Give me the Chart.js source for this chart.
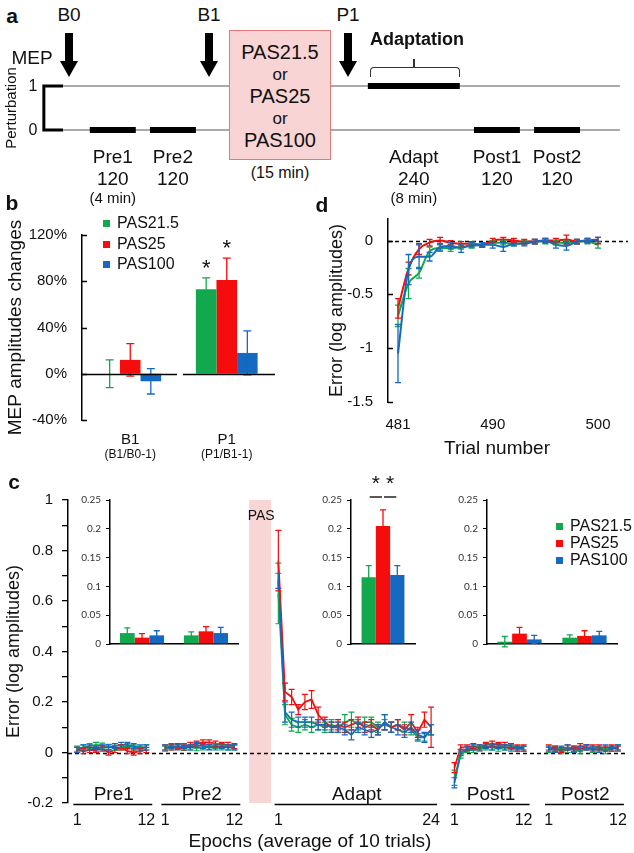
<!DOCTYPE html>
<html><head><meta charset="utf-8">
<script src="https://cdn.jsdelivr.net/npm/chart.js"></script>
<style>
html,body{margin:0;padding:0;background:#fff}
#fig{position:relative;width:634px;height:853px;overflow:hidden;font-family:"Liberation Sans",Arial,sans-serif;color:#111}
.box{position:absolute}
canvas{display:block}
.t{position:absolute;white-space:nowrap;line-height:1;transform:translate(-50%,-50%)}
.b{font-weight:bold}
.lg{position:absolute;line-height:1}
.lg div{position:absolute;left:0;display:flex;align-items:center;white-space:nowrap;transform:translateY(-50%)}
.lg .sq{display:inline-block;width:7px;height:7px;margin-right:7px}
.shaft{position:absolute;background:#000;width:8px}
.head{position:absolute;width:0;height:0;border-left:9px solid transparent;border-right:9px solid transparent;border-top:16px solid #000}
#pasbox{position:absolute;left:229px;top:30px;width:100px;height:128px;background:#f9d4d4;border:1.5px solid #e27878}
</style></head>
<body><div id="fig">

<!-- panel a -->
<div class="box" style="left:0;top:60px;width:634px;height:90px"><canvas id="ca" width="634" height="90"></canvas></div>
<div class="t b" style="left:12px;top:15px;font-size:21px">a</div>
<div class="t" style="left:69px;top:14px;font-size:19px">B0</div>
<div class="t" style="left:209px;top:14px;font-size:19px">B1</div>
<div class="t" style="left:348px;top:14px;font-size:19px">P1</div>
<div class="shaft" style="left:65px;top:33px;height:29px"></div><div class="head" style="left:60px;top:61px"></div>
<div class="shaft" style="left:205px;top:33px;height:29px"></div><div class="head" style="left:200px;top:61px"></div>
<div class="shaft" style="left:344px;top:33px;height:29px"></div><div class="head" style="left:339px;top:61px"></div>
<div class="t" style="left:32px;top:57px;font-size:19px">MEP</div>
<div class="t" style="left:10px;top:108px;font-size:15px;transform:translate(-50%,-50%) rotate(-90deg)">Perturbation</div>
<div class="t" style="left:33px;top:86px;font-size:16px">1</div>
<div class="t" style="left:33px;top:130px;font-size:16px">0</div>
<div id="pasbox"></div>
<div class="t" style="left:280px;top:52px;font-size:20px">PAS21.5</div>
<div class="t" style="left:280px;top:74px;font-size:17px">or</div>
<div class="t" style="left:280px;top:96px;font-size:20px">PAS25</div>
<div class="t" style="left:280px;top:118px;font-size:17px">or</div>
<div class="t" style="left:280px;top:140px;font-size:20px">PAS100</div>
<div class="t" style="left:280px;top:173px;font-size:16px">(15 min)</div>
<div class="t b" style="left:417px;top:39px;font-size:18px">Adaptation</div>
<div class="box" style="left:370px;top:67px;width:88px;height:9px;border:1.5px solid #333;border-bottom:none;border-radius:4px 4px 0 0"></div>
<div class="box" style="left:413px;top:59px;width:1.5px;height:9px;background:#333"></div>

<!-- panel b -->
<div class="box" style="left:0;top:200px;width:290px;height:270px"><canvas id="cb" width="290" height="270"></canvas></div>
<div class="t b" style="left:12px;top:202px;font-size:21px">b</div>
<div class="lg" id="lgb" style="left:103px;top:0;font-size:16px"></div>

<!-- panel d -->
<div class="box" style="left:300px;top:195px;width:334px;height:260px"><canvas id="cd" width="334" height="260"></canvas></div>
<div class="t b" style="left:322px;top:204px;font-size:21px">d</div>
<div class="t" style="left:497px;top:447px;font-size:19px">Trial number</div>

<!-- panel c -->
<div class="box" style="left:0;top:470px;width:634px;height:383px"><canvas id="cc" width="634" height="383"></canvas></div>
<div class="box" style="left:60px;top:470px;width:185px;height:185px"><canvas id="ci1" width="185" height="185"></canvas></div>
<div class="box" style="left:300px;top:470px;width:125px;height:185px"><canvas id="ci2" width="125" height="185"></canvas></div>
<div class="box" style="left:440px;top:470px;width:185px;height:185px"><canvas id="ci3" width="185" height="185"></canvas></div>
<div class="t b" style="left:14px;top:481px;font-size:21px">c</div>
<div class="lg" id="lgc" style="left:556px;top:0;font-size:16px"></div>
<div class="t" style="left:310px;top:840px;font-size:19px">Epochs (average of 10 trials)</div>

</div>
<script>
// ================= DATA =================
const groups = ['PAS21.5', 'PAS25', 'PAS100'];

// panel a: session schedule
const phaseNames = ['Pre1', 'Pre2', 'Adapt', 'Post1', 'Post2'];
const phaseTrials = [120, 120, 240, 120, 120];
const phasePerturbation = [0, 0, 1, 0, 0];
const phaseDuration = ['(4 min)', '', '(8 min)', '', ''];

// panel b: MEP amplitude changes (%)
const mepCategories = ['B1', 'P1'];
const mepSubLabels = ['(B1/B0-1)', '(P1/B1-1)'];
const mepTicks = [-40, 0, 40, 80, 120];
const mepPAS215 = [0, 73];
const mepPAS215Err = [12, 10];
const mepPAS25 = [12, 81];
const mepPAS25Err = [14, 19];
const mepPAS100 = [-6.5, 18];
const mepPAS100Err = [11, 19];
const mepSigPAS215 = [0, 1];
const mepSigPAS25 = [0, 1];
const mepSigPAS100 = [0, 0];

// panel d: first 20 trials of Post1
const trialNumbers = [481,482,483,484,485,486,487,488,489,490,491,492,493,494,495,496,497,498,499,500];
const trialTicks = [481, 490, 500];
const dYTicks = [-1.5, -1, -0.5, 0];
const dPAS215 = [-0.70,-0.40,-0.30,-0.10,-0.07,-0.07,-0.06,-0.05,-0.04,-0.02,-0.02,-0.03,-0.02,-0.01,-0.01,-0.02,-0.02,-0.01,-0.01,-0.04];
const dPAS215Err = [0.10,0.14,0.05,0.04,0.03,0.03,0.02,0.02,0.02,0.02,0.02,0.02,0.02,0.02,0.02,0.02,0.02,0.02,0.02,0.03];
const dPAS25 = [-0.63,-0.26,-0.08,-0.02,0.00,-0.02,-0.03,-0.03,-0.04,0.00,0.01,0.00,-0.01,-0.01,0.00,0.00,0.01,-0.01,0.00,0.00];
const dPAS25Err = [0.09,0.06,0.05,0.03,0.03,0.02,0.02,0.02,0.02,0.02,0.02,0.02,0.02,0.02,0.02,0.02,0.04,0.02,0.02,0.03];
const dPAS100 = [-1.05,-0.27,-0.15,-0.15,-0.06,-0.05,-0.07,-0.04,-0.04,-0.04,-0.06,-0.03,-0.03,-0.01,0.00,-0.04,-0.05,-0.01,0.00,0.01];
const dPAS100Err = [0.27,0.14,0.11,0.04,0.03,0.03,0.04,0.02,0.02,0.03,0.04,0.02,0.02,0.02,0.02,0.03,0.04,0.02,0.02,0.02];

// panel c: epochs (Pre1 12, Pre2 12, Adapt 24, Post1 12, Post2 12)
const cYTicks = [-0.2,-0.1,0,0.1,0.2,0.3,0.4,0.5,0.6,0.7,0.8,0.9,1];
const cPAS215 = [
  0.015,0.020,0.025,0.030,0.027,0.022,0.018,0.020,0.025,0.020,0.015,0.020,
  0.015,0.020,0.022,0.018,0.020,0.017,0.020,0.022,0.025,0.020,0.020,0.020,
  0.63,0.15,0.11,0.10,0.11,0.10,0.11,0.10,0.11,0.10,0.12,0.13,0.11,0.12,0.12,0.10,0.11,0.10,0.11,0.10,0.09,0.06,0.06,0.09,
  -0.10,-0.01,0.010,0.010,0.015,0.020,0.020,0.015,0.020,0.015,0.015,0.015,
  0.010,0.015,0.005,0.010,0.015,0.005,0.020,0.010,0.015,0.005,0.015,0.020];
const cPAS215Err = [
  0.010,0.010,0.010,0.010,0.010,0.010,0.010,0.010,0.010,0.010,0.010,0.010,
  0.010,0.010,0.010,0.010,0.010,0.010,0.010,0.010,0.010,0.010,0.010,0.010,
  0.12,0.04,0.025,0.02,0.02,0.02,0.02,0.02,0.02,0.02,0.03,0.03,0.02,0.02,0.02,0.02,0.02,0.02,0.02,0.02,0.02,0.015,0.015,0.02,
  0.030,0.012,0.010,0.010,0.010,0.010,0.010,0.010,0.010,0.010,0.010,0.010,
  0.010,0.010,0.010,0.010,0.010,0.010,0.010,0.010,0.010,0.010,0.010,0.010];
const cPAS25 = [
  0.010,0.005,0.010,0.010,0.015,0.000,0.010,0.020,0.005,0.000,0.005,0.010,
  0.020,0.020,0.025,0.020,0.030,0.035,0.040,0.040,0.035,0.030,0.030,0.025,
  0.76,0.24,0.22,0.17,0.20,0.21,0.15,0.12,0.10,0.11,0.10,0.11,0.12,0.10,0.11,0.09,0.12,0.10,0.11,0.09,0.12,0.08,0.13,0.10,
  -0.06,0.020,0.020,0.025,0.020,0.030,0.035,0.030,0.030,0.025,0.020,0.020,
  0.020,0.015,0.010,0.020,0.015,0.025,0.020,0.020,0.020,0.015,0.020,0.015];
const cPAS25Err = [
  0.010,0.010,0.010,0.010,0.010,0.010,0.010,0.010,0.010,0.010,0.010,0.010,
  0.010,0.010,0.010,0.010,0.010,0.010,0.010,0.010,0.010,0.010,0.010,0.010,
  0.12,0.035,0.03,0.02,0.03,0.035,0.03,0.02,0.02,0.02,0.02,0.02,0.02,0.02,0.02,0.02,0.03,0.02,0.02,0.02,0.03,0.02,0.03,0.08,
  0.020,0.010,0.010,0.010,0.010,0.010,0.010,0.010,0.010,0.010,0.010,0.010,
  0.010,0.010,0.010,0.010,0.010,0.010,0.010,0.010,0.010,0.010,0.010,0.010];
const cPAS100 = [
  0.010,0.020,0.020,0.015,0.020,0.020,0.025,0.030,0.030,0.025,0.020,0.020,
  0.020,0.025,0.020,0.025,0.020,0.030,0.025,0.020,0.020,0.025,0.020,0.020,
  0.68,0.16,0.13,0.12,0.12,0.12,0.11,0.11,0.10,0.10,0.09,0.07,0.10,0.09,0.08,0.09,0.12,0.10,0.09,0.08,0.10,0.07,0.06,0.09,
  -0.12,0.000,0.015,0.020,0.020,0.025,0.020,0.025,0.020,0.020,0.015,0.015,
  0.015,0.010,0.015,0.020,0.010,0.015,0.020,0.015,0.010,0.020,0.015,0.020];
const cPAS100Err = [
  0.010,0.010,0.010,0.010,0.010,0.010,0.010,0.010,0.010,0.010,0.010,0.010,
  0.010,0.010,0.010,0.010,0.010,0.010,0.010,0.010,0.010,0.010,0.010,0.010,
  0.03,0.04,0.03,0.02,0.02,0.02,0.02,0.02,0.02,0.02,0.02,0.02,0.02,0.02,0.02,0.02,0.03,0.02,0.02,0.02,0.02,0.02,0.02,0.02,
  0.020,0.012,0.010,0.010,0.010,0.010,0.010,0.010,0.010,0.010,0.010,0.010,
  0.010,0.010,0.010,0.010,0.010,0.010,0.010,0.010,0.010,0.010,0.010,0.010];

// panel c insets: mean error per block
const insetTicks = [0, 0.05, 0.1, 0.15, 0.2, 0.25];
const preBlocks = ['Pre1', 'Pre2'];
const prePAS215 = [0.019, 0.015], prePAS215Err = [0.009, 0.006];
const prePAS25 = [0.011, 0.022], prePAS25Err = [0.007, 0.008];
const prePAS100 = [0.015, 0.019], prePAS100Err = [0.008, 0.010];
const adaptBlocks = ['Adapt'];
const adaptPAS215 = [0.116], adaptPAS215Err = [0.020];
const adaptPAS25 = [0.205], adaptPAS25Err = [0.028];
const adaptPAS100 = [0.120], adaptPAS100Err = [0.016];
const adaptSigPairs = [[0, 1], [1, 2]];
const postBlocks = ['Post1', 'Post2'];
const postPAS215 = [0.004, 0.011], postPAS215Err = [0.009, 0.005];
const postPAS25 = [0.018, 0.014], postPAS25Err = [0.011, 0.009];
const postPAS100 = [0.008, 0.015], postPAS100Err = [0.007, 0.007];

// ================= STYLE =================
const colors = ['#12a84e', '#f50d0d', '#1569c0'];
const FONT = '"Liberation Sans", Arial, sans-serif';
Chart.defaults.font.family = FONT;
Chart.defaults.color = '#111';
Chart.defaults.animation = false;
Chart.defaults.responsive = false;
Chart.defaults.events = [];
Chart.defaults.plugins.legend.display = false;
Chart.defaults.plugins.tooltip.enabled = false;
Chart.defaults.layout.autoPadding = false;

function txt(text, x, y, size) {
  const d = document.createElement('div');
  d.className = 't'; d.textContent = text;
  d.style.left = x + 'px'; d.style.top = y + 'px'; d.style.fontSize = size + 'px';
  document.getElementById('fig').appendChild(d);
}
function legend(id, rows) {
  const el = document.getElementById(id);
  groups.forEach((g, i) => {
    const r = document.createElement('div');
    r.style.top = rows[i] + 'px';
    r.innerHTML = '<span class="sq" style="background:' + colors[i] + '"></span>' + g;
    el.appendChild(r);
  });
}

// ---------- plugins ----------
const errBars = {
  id: 'errBars',
  afterDatasetsDraw(chart, args, opts) {
    const ctx = chart.ctx;
    chart.data.datasets.forEach((ds, di) => {
      if (!ds.errors) return;
      const meta = chart.getDatasetMeta(di);
      const ys = chart.scales[meta.yAxisID];
      ctx.save();
      ctx.strokeStyle = chart.config.type === 'line' ? ds.borderColor : ds.backgroundColor;
      ctx.lineWidth = opts.width || 1.3;
      const cap = opts.cap || 3;
      meta.data.forEach((el, i) => {
        const raw = ds.data[i];
        const v = (raw && typeof raw === 'object') ? raw.y : raw;
        const e = ds.errors[i];
        if (v == null || e == null) return;
        const x = el.x;
        const y1 = ys.getPixelForValue(v + e), y2 = ys.getPixelForValue(v - e);
        ctx.beginPath();
        ctx.moveTo(x, y1); ctx.lineTo(x, y2);
        ctx.moveTo(x - cap, y1); ctx.lineTo(x + cap, y1);
        ctx.moveTo(x - cap, y2); ctx.lineTo(x + cap, y2);
        ctx.stroke();
      });
      ctx.restore();
    });
  }
};
const innerTicks = {
  id: 'innerTicks',
  afterDraw(chart) {
    const s = chart.scales.y, ctx = chart.ctx;
    ctx.save(); ctx.strokeStyle = '#000'; ctx.lineWidth = 1.3; ctx.beginPath();
    s.ticks.forEach(t => { const y = Math.round(s.getPixelForValue(t.value)) + 0.5; ctx.moveTo(s.right, y); ctx.lineTo(s.right + 5, y); });
    ctx.stroke(); ctx.restore();
  }
};
const zeroDash = {
  id: 'zeroDash',
  beforeDatasetsDraw(chart) {
    const {ctx, chartArea: a, scales: {y}} = chart;
    const yy = Math.round(y.getPixelForValue(0)) + 0.5;
    ctx.save(); ctx.strokeStyle = '#000'; ctx.lineWidth = 1.3; ctx.setLineDash([4, 3]);
    ctx.beginPath(); ctx.moveTo(a.left, yy); ctx.lineTo(a.right, yy); ctx.stroke(); ctx.restore();
  }
};

// ================= PANEL A =================
const phaseStart = [];
(function () {
  let t = 70;
  phaseTrials.forEach((n, i) => {
    if (phasePerturbation[i] === 1) t = 796; // after PAS block
    phaseStart.push(t); t += n + 37;
  });
})();
const aSets = [];
phaseNames.forEach((n, i) => aSets.push({
  data: [{x: phaseStart[i], y: phasePerturbation[i]}, {x: phaseStart[i] + phaseTrials[i], y: phasePerturbation[i]}],
  borderColor: '#000', borderWidth: 6, borderCapStyle: 'butt'
}));
aSets.push({data: [{x: 0, y: 1}, {x: -50, y: 1}, {x: -50, y: 0}, {x: 0, y: 0}], borderColor: '#000', borderWidth: 3, borderJoinStyle: 'miter'});
aSets.push({data: [{x: 0, y: 1}, {x: 1454, y: 1}], borderColor: '#8c8c8c', borderWidth: 1.5});
aSets.push({data: [{x: 0, y: 0}, {x: 1454, y: 0}], borderColor: '#8c8c8c', borderWidth: 1.5});
const chartA = new Chart(document.getElementById('ca'), {
  type: 'line',
  data: {datasets: aSets.map(d => Object.assign({pointRadius: 0, fill: false, tension: 0}, d))},
  options: {layout: {padding: 0},
    scales: {x: {type: 'linear', display: false, min: -164.5, max: 1490.9}, y: {display: false, min: -0.4545, max: 1.591}}}
});
phaseNames.forEach((n, i) => {
  const x = chartA.scales.x.getPixelForValue(phaseStart[i] + phaseTrials[i] / 2);
  txt(n, x, 156, 19);
  txt(String(phaseTrials[i]), x, 178, 19);
  if (phaseDuration[i]) txt(phaseDuration[i], x, 197, 15);
});

// ================= PANEL B =================
const mepExtras = {
  id: 'mepExtras',
  afterDatasetsDraw(chart) {
    const {ctx, chartArea: a, scales: {x, y}} = chart;
    const n = mepCategories.length, w = (a.right - a.left) / n;
    const y0 = Math.round(y.getPixelForValue(0)) + 0.5;
    ctx.save(); ctx.strokeStyle = '#000'; ctx.lineWidth = 1.3;
    mepCategories.forEach((c, i) => {
      const cx = x.getPixelForValue(i);
      const l = i === 0 ? a.left : cx - 0.455 * w;
      const r = i === n - 1 ? a.right : cx + 0.485 * w;
      ctx.beginPath(); ctx.moveTo(l, y0); ctx.lineTo(r, y0); ctx.stroke();
      ctx.fillStyle = '#111'; ctx.textAlign = 'center'; ctx.textBaseline = 'middle';
      ctx.font = '15px ' + FONT; ctx.fillText(c, cx, 240);
      ctx.font = '12px ' + FONT; ctx.fillText(mepSubLabels[i], cx, 255);
    });
    ctx.font = '22px ' + FONT; ctx.textBaseline = 'alphabetic';
    chart.data.datasets.forEach((ds, di) => {
      const meta = chart.getDatasetMeta(di);
      ds.sig.forEach((s, i) => {
        if (!s) return;
        const top = y.getPixelForValue(ds.data[i] + ds.errors[i]);
        ctx.fillText('*', meta.data[i].x, top - 3);
      });
    });
    ctx.restore();
  }
};
new Chart(document.getElementById('cb'), {
  type: 'bar',
  data: {labels: mepCategories, datasets: [
    {label: groups[0], data: mepPAS215, errors: mepPAS215Err, sig: mepSigPAS215, backgroundColor: colors[0]},
    {label: groups[1], data: mepPAS25, errors: mepPAS25Err, sig: mepSigPAS25, backgroundColor: colors[1]},
    {label: groups[2], data: mepPAS100, errors: mepPAS100Err, sig: mepSigPAS100, backgroundColor: colors[2]}
  ].map(d => Object.assign({borderWidth: 0, categoryPercentage: 0.64, barPercentage: 1}, d))},
  options: {
    layout: {padding: {top: 35, right: 15, bottom: 50, left: 0}},
    plugins: {errBars: {cap: 4, width: 1.3}},
    scales: {
      x: {display: false},
      y: {min: -40, max: 120,
        afterBuildTicks: s => { s.ticks = mepTicks.map(v => ({value: v})); },
        ticks: {callback: v => v + '%', font: {size: 15}, color: '#111', padding: 15},
        grid: {display: false, drawTicks: false},
        border: {display: true, color: '#000', width: 1.5},
        title: {display: true, text: 'MEP amplitudes changes', font: {size: 19}, color: '#111', padding: {top: 4, bottom: 0}},
        afterFit: s => { s.width = 82; }
      }
    }
  },
  plugins: [errBars, innerTicks, mepExtras]
});
legend('lgb', [223, 244, 264]);

// ================= PANEL D =================
function xy(xs, ys) { return xs.map((x, i) => ({x: x, y: ys[i]})); }
new Chart(document.getElementById('cd'), {
  type: 'line',
  data: {datasets: [
    {label: groups[0], data: xy(trialNumbers, dPAS215), errors: dPAS215Err, borderColor: colors[0], order: 2},
    {label: groups[1], data: xy(trialNumbers, dPAS25), errors: dPAS25Err, borderColor: colors[1], order: 1},
    {label: groups[2], data: xy(trialNumbers, dPAS100), errors: dPAS100Err, borderColor: colors[2], order: 0}
  ].map(d => Object.assign({pointRadius: 0, borderWidth: 2, fill: false, cubicInterpolationMode: 'monotone'}, d))},
  options: {
    layout: {padding: {top: 18, right: 6, bottom: 0, left: 0}},
    plugins: {errBars: {cap: 3, width: 1.3}},
    scales: {
      x: {type: 'linear', min: 480.05, max: 502.85,
        afterBuildTicks: s => { s.ticks = trialTicks.map(v => ({value: v})); },
        ticks: {callback: v => String(v), font: {size: 15}, color: '#111', padding: 14, maxRotation: 0},
        grid: {display: false, drawTicks: false}, border: {display: false},
        afterFit: s => { s.height = 53; }
      },
      y: {min: -1.5, max: 0.2,
        afterBuildTicks: s => { s.ticks = dYTicks.map(v => ({value: v})); },
        ticks: {callback: v => String(v), font: {size: 15}, color: '#111', padding: 15},
        grid: {display: false, drawTicks: false},
        border: {display: true, color: '#000', width: 1.5},
        title: {display: true, text: 'Error (log amplitudes)', font: {size: 18}, color: '#111', padding: {top: 26, bottom: 0}},
        afterFit: s => { s.width = 88; }
      }
    }
  },
  plugins: [zeroDash, errBars, innerTicks]
});

// ================= PANEL C (main) =================
const phaseEpochs = phaseTrials.map(n => n / 10);
const phaseStartUnit = [1, 15, 33, 61, 76];
const phaseStepUnit = [1, 1, 1.056, 1, 1];
const pasBand = [28.35, 31.85];
function epochX(p, i) { return phaseStartUnit[p] + i * phaseStepUnit[p]; }
function cSeries(vals, errs) {
  const data = [], e = []; let k = 0;
  phaseEpochs.forEach((n, p) => {
    for (let i = 0; i < n; i++) { data.push({x: epochX(p, i), y: vals[k]}); e.push(errs[k]); k++; }
    data.push({x: epochX(p, n - 1) + 0.5, y: null}); e.push(null);
  });
  return {data, errors: e};
}
const cAxis = {
  id: 'cAxis',
  beforeDatasetsDraw(chart) {
    const {ctx, chartArea: a, scales: {x}} = chart;
    const x1 = x.getPixelForValue(pasBand[0]), x2 = x.getPixelForValue(pasBand[1]);
    ctx.save();
    ctx.fillStyle = '#f8d6d6'; ctx.fillRect(x1, a.top, x2 - x1, a.bottom - a.top);
    ctx.fillStyle = '#111'; ctx.font = '14px ' + FONT; ctx.textAlign = 'center'; ctx.textBaseline = 'middle';
    ctx.fillText('PAS', (x1 + x2) / 2 + 1, a.top + 16);
    ctx.restore();
  },
  afterDraw(chart) {
    const {ctx, chartArea: a, scales: {x}} = chart;
    ctx.save(); ctx.strokeStyle = '#000'; ctx.lineWidth = 1.3; ctx.fillStyle = '#111';
    ctx.textAlign = 'center'; ctx.textBaseline = 'middle';
    phaseNames.forEach((name, p) => {
      const n = phaseEpochs[p];
      const f = x.getPixelForValue(epochX(p, 0)), l = x.getPixelForValue(epochX(p, n - 1));
      const ly = Math.round(a.bottom) + 1.5;
      ctx.beginPath(); ctx.moveTo(x.getPixelForValue(epochX(p, 0) - 0.6), ly); ctx.lineTo(x.getPixelForValue(epochX(p, n - 1) + 0.95), ly); ctx.stroke();
      ctx.font = '19px ' + FONT; ctx.fillText(name, (f + l) / 2 + 2, a.bottom - 8);
      ctx.font = '16px ' + FONT; ctx.fillText('1', f, a.bottom + 18); ctx.fillText(String(n), l, a.bottom + 18);
    });
    ctx.restore();
  }
};
const cG = cSeries(cPAS215, cPAS215Err), cR = cSeries(cPAS25, cPAS25Err), cB = cSeries(cPAS100, cPAS100Err);
new Chart(document.getElementById('cc'), {
  type: 'line',
  data: {datasets: [
    {label: groups[0], data: cG.data, errors: cG.errors, borderColor: colors[0], order: 2},
    {label: groups[1], data: cR.data, errors: cR.errors, borderColor: colors[1], order: 1},
    {label: groups[2], data: cB.data, errors: cB.errors, borderColor: colors[2], order: 0}
  ].map(d => Object.assign({pointRadius: 0, borderWidth: 1.8, fill: false, tension: 0, spanGaps: false}, d))},
  options: {
    layout: {padding: {top: 30, right: 6, bottom: 50, left: 0}},
    plugins: {errBars: {cap: 3, width: 1.2}},
    scales: {
      x: {type: 'linear', display: false, min: -0.45, max: 88.6},
      y: {min: -0.2, max: 1,
        afterBuildTicks: s => { s.ticks = cYTicks.map(v => ({value: v})); },
        ticks: {callback: v => (Math.round(v * 10) % 2 === 0 ? String(Math.round(v * 10) / 10) : ''), font: {size: 15}, color: '#111', padding: 9, autoSkip: false},
        grid: {display: true, drawOnChartArea: false, drawTicks: true, tickLength: 6, color: '#000', lineWidth: 1.3},
        border: {display: true, color: '#000', width: 1.5},
        title: {display: true, text: 'Error (log amplitudes)', font: {size: 18}, color: '#111', padding: {top: 3, bottom: 0}},
        afterFit: s => { s.width = 68; }
      }
    }
  },
  plugins: [cAxis, zeroDash, errBars]
});

// ================= PANEL C (insets) =================
const sigPairs = {
  id: 'sigPairs',
  afterDraw(chart, args, opts) {
    if (!opts.pairs) return;
    const ctx = chart.ctx, a = chart.chartArea;
    ctx.save(); ctx.strokeStyle = '#222'; ctx.lineWidth = 1.5; ctx.fillStyle = '#111';
    ctx.textAlign = 'center'; ctx.textBaseline = 'alphabetic'; ctx.font = '21px ' + FONT;
    opts.pairs.forEach(([i, j]) => {
      const xi = chart.getDatasetMeta(i).data[0].x, xj = chart.getDatasetMeta(j).data[0].x;
      const yl = a.top - 3;
      ctx.beginPath(); ctx.moveTo(xi + 1, yl); ctx.lineTo(xj - 1, yl); ctx.stroke();
      ctx.fillText('*', (xi + xj) / 2, yl - 7);
    });
    ctx.restore();
  }
};
function inset(id, labels, sets, leftW, rightPad, cp, pairs) {
  return new Chart(document.getElementById(id), {
    type: 'bar',
    data: {labels: labels, datasets: sets.map((s, i) => ({label: groups[i], data: s[0], errors: s[1], backgroundColor: colors[i], borderWidth: 0, categoryPercentage: cp, barPercentage: 1}))},
    options: {
      layout: {padding: {top: 30, right: rightPad, bottom: 7, left: 0}},
      plugins: {errBars: {cap: 3, width: 1.3}, sigPairs: {pairs: pairs}},
      scales: {
        x: {ticks: {display: false}, grid: {display: false, drawTicks: false}, border: {display: true, color: '#000', width: 1.5}, afterFit: s => { s.height = 0; }},
        y: {min: 0, max: 0.25,
          afterBuildTicks: s => { s.ticks = insetTicks.map(v => ({value: v})); },
          ticks: {callback: v => String(+v.toFixed(2)), font: {family: 'Lato', size: 10}, color: '#333', padding: 5},
          grid: {display: true, drawOnChartArea: false, drawTicks: true, tickLength: 4, color: '#000', lineWidth: 1},
          border: {display: true, color: '#000', width: 1.5},
          afterFit: s => { s.width = leftW; }
        }
      }
    },
    plugins: [errBars, sigPairs]
  });
}
inset('ci1', preBlocks, [[prePAS215, prePAS215Err], [prePAS25, prePAS25Err], [prePAS100, prePAS100Err]], 50, 7, 0.69, null);
inset('ci2', adaptBlocks, [[adaptPAS215, adaptPAS215Err], [adaptPAS25, adaptPAS25Err], [adaptPAS100, adaptPAS100Err]], 51, 10, 0.67, adaptSigPairs);
inset('ci3', postBlocks, [[postPAS215, postPAS215Err], [postPAS25, postPAS25Err], [postPAS100, postPAS100Err]], 47, 8, 0.68, null);
legend('lgc', [526, 543, 560]);
</script>
</body></html>
